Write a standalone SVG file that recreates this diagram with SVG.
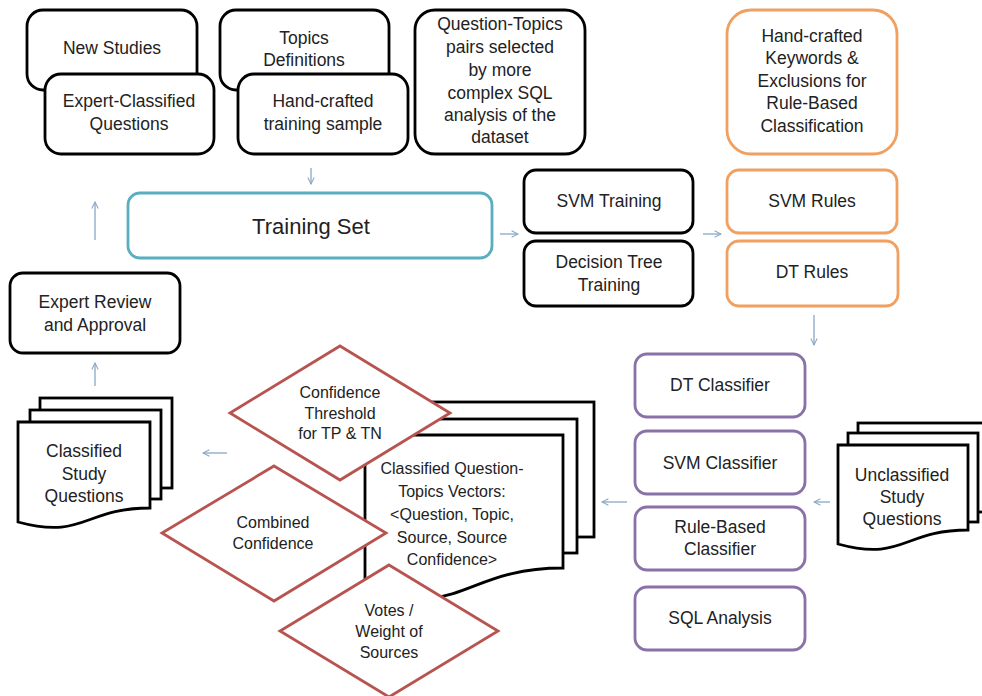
<svg xmlns="http://www.w3.org/2000/svg" width="982" height="696" viewBox="0 0 982 696">
<defs>
<style>
text{font-family:"Liberation Sans",Arial,sans-serif;font-size:17.5px;fill:#222;text-anchor:middle}
.b{fill:#fff;stroke:#000;stroke-width:2.8}
.o{fill:#fff;stroke:#f0a060;stroke-width:2.8}
.p{fill:#fff;stroke:#8a72a8;stroke-width:2.8}
.t{fill:#fff;stroke:#5aaec0;stroke-width:2.8}
.d{fill:#fff;stroke:#b85450;stroke-width:2.8}
.dt{font-size:16px}
.ct{font-size:16px}
.a{fill:none;stroke:#8aa6c4;stroke-width:1.3}
</style>
<marker id="ah" viewBox="0 0 10 10" refX="9" refY="5" markerWidth="8" markerHeight="8" orient="auto" markerUnits="userSpaceOnUse">
<path d="M1,1 L9,5 L1,9" fill="none" stroke="#8aa6c4" stroke-width="1.3"/>
</marker>
</defs>
<rect width="982" height="696" fill="#fff"/>

<g id="new-studies"><rect class="b" x="27" y="10" width="170" height="80" rx="16"/><text x="112" y="54">New Studies</text></g>
<g id="expert-classified"><rect class="b" x="45" y="74" width="169" height="80" rx="16"/><text x="129" y="107">Expert-Classified</text><text x="129" y="130">Questions</text></g>
<g id="topics-definitions"><rect class="b" x="220" y="10" width="169" height="80" rx="16"/><text x="304" y="44">Topics</text><text x="304" y="66">Definitions</text></g>
<g id="hand-crafted-sample"><rect class="b" x="238" y="74" width="170" height="80" rx="16"/><text x="323" y="107">Hand-crafted</text><text x="323" y="130">training sample</text></g>
<g id="question-topics-pairs"><rect class="b" x="415" y="10" width="170" height="144" rx="20"/>
<text x="500" y="30">Question-Topics</text><text x="500" y="53">pairs selected</text><text x="500" y="76">by more</text><text x="500" y="99">complex SQL</text><text x="500" y="121">analysis of the</text><text x="500" y="143">dataset</text></g>
<g id="keywords-exclusions"><rect class="o" x="727" y="10" width="170" height="144" rx="24"/>
<text x="812" y="42">Hand-crafted</text><text x="812" y="64">Keywords &amp;</text><text x="812" y="87">Exclusions for</text><text x="812" y="109">Rule-Based</text><text x="812" y="132">Classification</text></g>

<g id="training-set"><rect class="t" x="128" y="193" width="364" height="65" rx="12"/><text x="311" y="234" style="font-size:22px">Training Set</text></g>
<g id="svm-training"><rect class="b" x="524" y="170" width="169" height="63" rx="12"/><text x="609" y="207">SVM Training</text></g>
<g id="dt-training"><rect class="b" x="524" y="241" width="169" height="65" rx="12"/><text x="609" y="268">Decision Tree</text><text x="609" y="291">Training</text></g>
<g id="svm-rules"><rect class="o" x="727" y="170" width="170" height="63" rx="12"/><text x="812" y="207">SVM Rules</text></g>
<g id="dt-rules"><rect class="o" x="727" y="241" width="171" height="65" rx="12"/><text x="812" y="278">DT Rules</text></g>

<g id="expert-review"><rect class="b" x="10" y="273" width="170" height="80" rx="13"/><text x="95" y="308">Expert Review</text><text x="95" y="331">and Approval</text></g>

<g id="dt-classifier"><rect class="p" x="635" y="354" width="170" height="63" rx="12"/><text x="720" y="391">DT Classifier</text></g>
<g id="svm-classifier"><rect class="p" x="635" y="431" width="170" height="63" rx="12"/><text x="720" y="469">SVM Classifier</text></g>
<g id="rule-classifier"><rect class="p" x="635" y="507" width="170" height="63" rx="12"/><text x="720" y="533">Rule-Based</text><text x="720" y="555">Classifier</text></g>
<g id="sql-analysis"><rect class="p" x="635" y="587" width="170" height="63" rx="12"/><text x="720" y="624">SQL Analysis</text></g>

<g id="unclassified-questions">
<rect class="b" x="858" y="423" width="132" height="89"/>
<rect class="b" x="848" y="433" width="130" height="89"/>
<path class="b" d="M838,445 H968 V530 C903,530 903,562 838,544 Z"/>
<text x="902" y="481">Unclassified</text><text x="902" y="503">Study</text><text x="902" y="525">Questions</text></g>

<g id="classified-vectors">
<rect class="b" x="385" y="402" width="209" height="135"/>
<rect class="b" x="375" y="419" width="202" height="134"/>
<path class="b" d="M365,435 H563 V568 C464,568 464,619 365,590 Z"/>
<text class="ct" x="452" y="474">Classified Question-</text><text class="ct" x="452" y="497">Topics Vectors:</text><text class="ct" x="452" y="520">&lt;Question, Topic,</text><text class="ct" x="452" y="543">Source, Source</text><text class="ct" x="452" y="565">Confidence&gt;</text></g>

<g id="classified-questions">
<rect class="b" x="40" y="398" width="132" height="90"/>
<rect class="b" x="30" y="410" width="131" height="89"/>
<path class="b" d="M18,422 H150 V508 C84,508 84,540 18,522 Z"/>
<text x="84" y="457">Classified</text><text x="84" y="480">Study</text><text x="84" y="502">Questions</text></g>

<g id="confidence-threshold"><path class="d" d="M340,346 L450,413 L340,480 L230,413 Z"/>
<text class="dt" x="340" y="398">Confidence</text><text class="dt" x="340" y="419">Threshold</text><text class="dt" x="340" y="439">for TP &amp; TN</text></g>
<g id="combined-confidence"><path class="d" d="M274,466 L386,533 L274,601 L162,533 Z"/>
<text class="dt" x="273" y="528">Combined</text><text class="dt" x="273" y="549">Confidence</text></g>
<g id="votes-weight"><path class="d" d="M389,565 L498,631 L389,697 L280,631 Z"/>
<text class="dt" x="389" y="616">Votes /</text><text class="dt" x="389" y="637">Weight  of</text><text class="dt" x="389" y="658">Sources</text></g>

<g id="connectors">
<line class="a" x1="311" y1="168" x2="311" y2="184" marker-end="url(#ah)"/>
<line class="a" x1="95" y1="240" x2="95" y2="202" marker-end="url(#ah)"/>
<line class="a" x1="500" y1="234" x2="518" y2="234" marker-end="url(#ah)"/>
<line class="a" x1="703" y1="234" x2="721" y2="234" marker-end="url(#ah)"/>
<line class="a" x1="814" y1="315" x2="814" y2="345" marker-end="url(#ah)"/>
<line class="a" x1="830" y1="502" x2="814" y2="502" marker-end="url(#ah)"/>
<line class="a" x1="627" y1="502" x2="602" y2="502" marker-end="url(#ah)"/>
<line class="a" x1="227" y1="453" x2="203" y2="453" marker-end="url(#ah)"/>
<line class="a" x1="95" y1="386" x2="95" y2="363" marker-end="url(#ah)"/>
</g>
</svg>
